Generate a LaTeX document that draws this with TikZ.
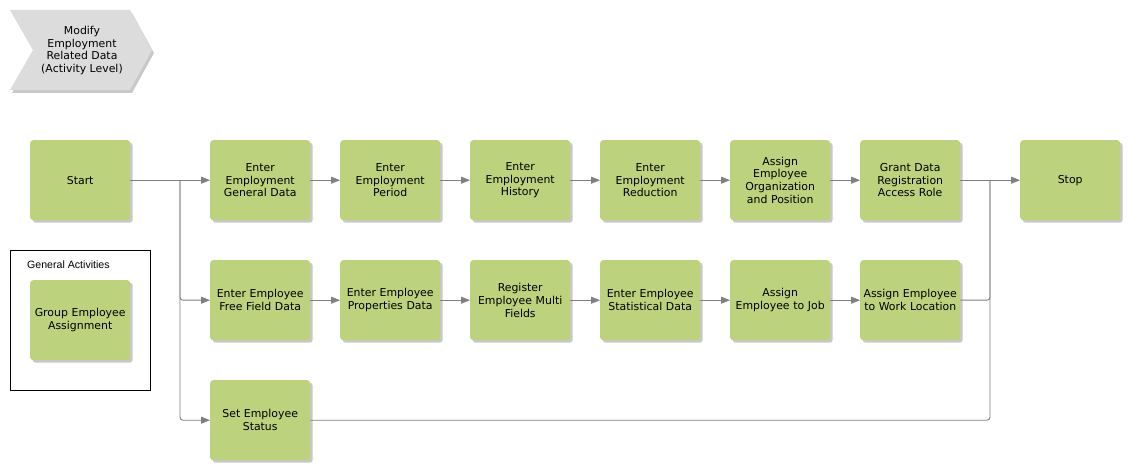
\documentclass[tikz,border=0pt]{standalone}
\usepackage{fontspec}
\setmainfont{DejaVu Sans}
\newfontfamily\arialfont{Liberation Sans}
\usetikzlibrary{arrows.meta,positioning}
\definecolor{boxgreen}{HTML}{BDD27D}
\definecolor{shadowgray}{HTML}{C8C8C8}
\definecolor{linegray}{HTML}{808080}
\definecolor{chevgray}{HTML}{DCDCDC}
\tikzset{
  actbox/.style={draw=none, fill=boxgreen, rounded corners=3pt, minimum width=100pt, minimum height=80pt,
    inner sep=1pt, align=center, text width=98pt, font=\fontsize{10.9}{12.8}\selectfont, anchor=north west,
    preaction={fill=shadowgray, transform canvas={xshift=2.5pt, yshift=-2.5pt}}},
  flow/.style={draw=linegray, line width=0.9pt, rounded corners=3pt},
  arr/.style={flow, -{Triangle[length=9pt,width=7pt,fill=linegray]}},
}
\begin{document}
\begin{tikzpicture}[x=1pt,y=-1pt]
\useasboundingbox (0,0) rectangle (1130,470);
% chevron
\fill[shadowgray] (12,13) -- (132,13) -- (154,53) -- (132,93) -- (12,93) -- (35,53) -- cycle;
\fill[chevgray] (10,10) -- (130,10) -- (152,50) -- (130,90) -- (10,90) -- (33,50) -- cycle;
\node[align=center, font=\fontsize{10.9}{12.8}\selectfont] (title) at (82,50.5) {Modify\\Employment\\Related Data\\(Activity Level)};
% general activities frame
\node[draw=black, line width=0.8pt, minimum width=140pt, minimum height=140pt, anchor=north west, inner sep=0pt] (frame) at (10,250) {};
\node[anchor=west, inner sep=0pt, font=\arialfont\fontsize{10.6}{12}\selectfont] (galabel) at (27,265) {General Activities};
\node[actbox] (group) at (30,280) {Group Employee\\Assignment};
% row 1
\node[actbox] (start) at (30,140) {Start};
\node[actbox] (a1) at (210,140) {Enter\\Employment\\General Data};
\node[actbox] (a2) at (340,140) {Enter\\Employment\\Period};
\node[actbox] (a3) at (470,140) {Enter\\Employment\\History};
\node[actbox] (a4) at (600,140) {Enter\\Employment\\Reduction};
\node[actbox] (a5) at (730,140) {Assign\\Employee\\Organization\\and Position};
\node[actbox] (a6) at (860,140) {Grant Data\\Registration\\Access Role};
\node[actbox] (stop) at (1020,140) {Stop};
% row 2
\node[actbox] (b1) at (210,260) {Enter Employee\\Free Field Data};
\node[actbox] (b2) at (340,260) {Enter Employee\\Properties Data};
\node[actbox] (b3) at (470,260) {Register\\Employee Multi\\Fields};
\node[actbox] (b4) at (600,260) {Enter Employee\\Statistical Data};
\node[actbox] (b5) at (730,260) {Assign\\Employee to Job};
\node[actbox] (b6) at (860,260) {Assign Employee\\to Work Location};
% row 3
\node[actbox] (c1) at (210,380) {Set Employee\\Status};
% junctions
\coordinate (jl) at (180,180);
\coordinate (jr) at (990,180);
% connectors
\draw[arr] (start.east) -- (a1.west);
\draw[arr] (jl) |- (b1.west);
\draw[arr] (jl) |- (c1.west);
\foreach \p/\q in {a1/a2,a2/a3,a3/a4,a4/a5,a5/a6,b1/b2,b2/b3,b3/b4,b4/b5,b5/b6}
  \draw[arr] (\p.east) -- (\q.west);
\draw[arr] (a6.east) -- (stop.west);
\draw[flow] (b6.east) -| (jr);
\draw[flow] (c1.east) -| (jr);
\end{tikzpicture}
\end{document}
